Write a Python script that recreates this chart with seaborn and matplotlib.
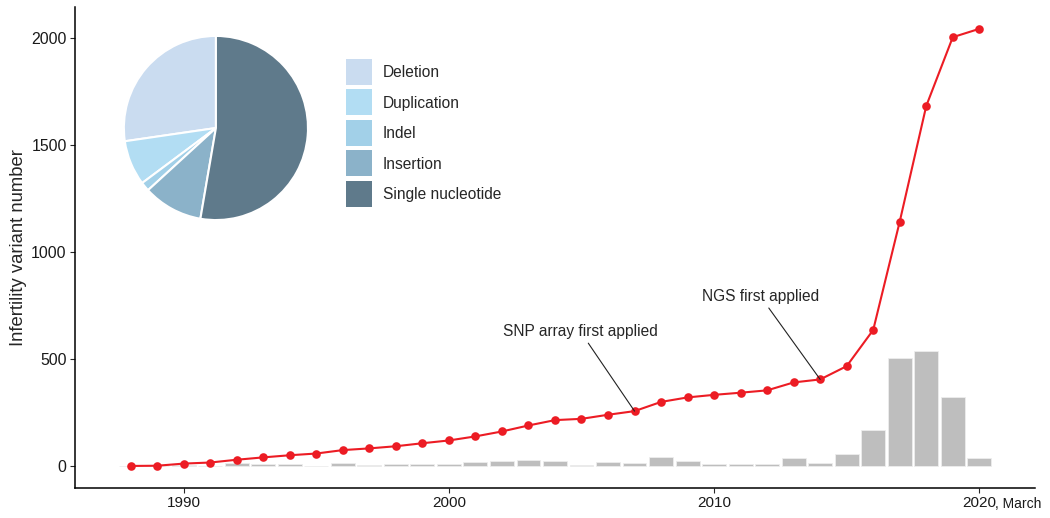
import matplotlib
matplotlib.use("Agg")
import matplotlib.pyplot as plt
from matplotlib.lines import Line2D
import seaborn as sns

# ==== DATA ====
years = list(range(1988, 2021))
new_variants = [1, 1, 5, 3, 13, 11, 10, 3, 17, 6,
                11, 11, 12, 19, 24, 28, 25, 4, 19, 17,
                42, 22, 11, 9, 9, 36, 14, 59, 168, 506,
                537, 321, 39]
total_variants = [1, 2, 12, 17, 30, 41, 51, 59, 75, 83,
                  93, 107, 120, 139, 162, 190, 215, 221, 240, 257,
                  300, 321, 333, 343, 354, 391, 405, 467, 636, 1142,
                  1682, 2003, 2042]

variant_types = ["Deletion", "Duplication", "Indel", "Insertion", "Single nucleotide"]
type_share = [27.3, 7.9, 1.6, 10.5, 52.7]
type_colors = ["#CADCF0", "#B2DDF3", "#A2D0E8", "#8BB2C9", "#5F7A8B"]

x_ticks = [1990, 2000, 2010, 2020]
y_ticks = [0, 500, 1000, 1500, 2000]

# ==== STYLE ====
sns.set_style("ticks")
plt.rcParams["font.family"] = ["Liberation Sans", "DejaVu Sans"]
plt.rcParams["axes.edgecolor"] = "black"

fig = plt.figure(figsize=(10.5, 5.18), dpi=100)
ax = fig.add_axes([0.0714, 0.0579, 0.9143, 0.9286])

# ==== BARS (new variants per year) + LINE (cumulative) ====
sns.barplot(x=years, y=new_variants, native_scale=True, width=0.9,
            color="#BEBEBE", saturation=1, edgecolor="#EDEDED",
            linewidth=0.6, ax=ax, zorder=1)
sns.lineplot(x=years, y=total_variants, color="#EC1C24", linewidth=1.5,
             marker="o", markersize=6.2, markeredgewidth=0, ax=ax, zorder=3)

ax.set_xlim(1985.9, 2022.1)
ax.set_ylim(-102, 2144)
ax.set_xticks(x_ticks)
ax.set_yticks(y_ticks)
ax.tick_params(length=3.5, width=0.8, pad=2.5, labelcolor="#1a1a1a")
ax.tick_params(axis="x", labelsize=11)
ax.tick_params(axis="y", labelsize=11.4)
ax.set_xlabel("")
ax.set_ylabel("Infertility variant number", fontsize=13.3, labelpad=3)
sns.despine(ax=ax)
for side in ["left", "bottom"]:
    ax.spines[side].set_linewidth(1.1)

ax.annotate(", March", xy=(2020, 0), xycoords=("data", "axes fraction"),
            xytext=(11, -14.4), textcoords="offset points",
            ha="left", va="baseline", fontsize=10, color="#1a1a1a")

# ==== ANNOTATIONS ====
arrow = dict(arrowstyle="-", color="#222222", lw=0.8, shrinkA=1, shrinkB=0)
ax.annotate("SNP array first applied", xy=(2007, total_variants[years.index(2007)]),
            xytext=(2004.95, 630), ha="center", va="center", fontsize=11.2,
            arrowprops=arrow)
ax.annotate("NGS first applied", xy=(2014, total_variants[years.index(2014)]),
            xytext=(2011.74, 794), ha="center", va="center", fontsize=11.2,
            arrowprops=arrow)

# ==== PIE: variant types ====
pax = fig.add_axes([0.1171, 0.5734, 0.1771, 0.359])
pax.pie(type_share, colors=type_colors, startangle=90, counterclock=True,
        wedgeprops=dict(edgecolor="white", linewidth=1.5))
pax.set_xlim(-1.01, 1.01)
pax.set_ylim(-1.01, 1.01)
pax.set_aspect("equal")

handles = [Line2D([], [], marker="s", linestyle="none", markersize=18.7,
                  markerfacecolor=c, markeredgewidth=0) for c in type_colors]
fig.legend(handles, variant_types, loc="upper left",
           bbox_to_anchor=(346 / 1050, 1 - 65 / 518), frameon=False,
           fontsize=11.2, handlelength=1.67, handletextpad=0.7,
           labelspacing=1.0, borderpad=0, borderaxespad=0)

plt.savefig("out.png", dpi=100)
